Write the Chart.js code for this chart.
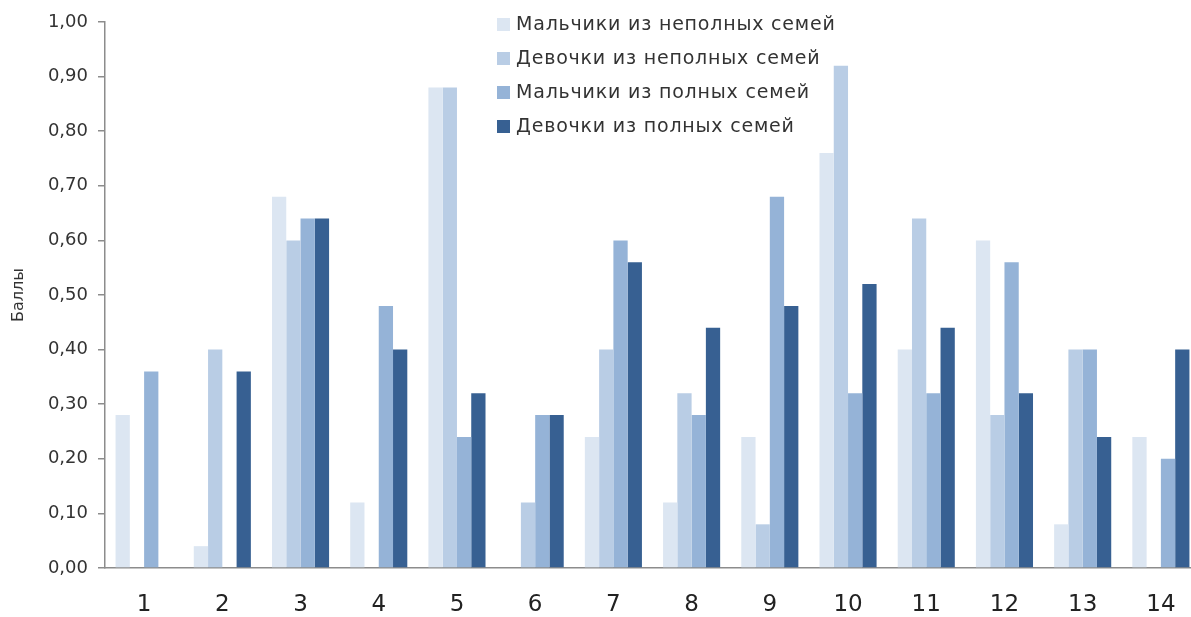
<!DOCTYPE html>
<html>
<head>
<meta charset="utf-8">
<script src="https://cdn.jsdelivr.net/npm/chart.js@4/dist/chart.umd.min.js"></script>
<style>
  html, body { margin: 0; padding: 0; background: #fff; overflow: hidden; }
  #wrap { width: 1191px; height: 617px; overflow: hidden; }
</style>
</head>
<body>
<div id="wrap"><canvas id="chart" width="1212" height="617"></canvas></div>
<script>
const categories = ['1', '2', '3', '4', '5', '6', '7', '8', '9', '10', '11', '12', '13', '14'];
const seriesNames = [
  'Мальчики из неполных семей',
  'Девочки из неполных семей',
  'Мальчики из полных семей',
  'Девочки из полных семей'
];
const boysIncomplete  = [0.28, 0.04, 0.68, 0.12, 0.88, 0.00, 0.24, 0.12, 0.24, 0.76, 0.40, 0.60, 0.08, 0.24];
const girlsIncomplete = [0.00, 0.40, 0.60, 0.00, 0.88, 0.12, 0.40, 0.32, 0.08, 0.92, 0.64, 0.28, 0.40, 0.00];
const boysComplete    = [0.36, 0.00, 0.64, 0.48, 0.24, 0.28, 0.60, 0.28, 0.68, 0.32, 0.32, 0.56, 0.40, 0.20];
const girlsComplete   = [0.00, 0.36, 0.64, 0.40, 0.32, 0.28, 0.56, 0.44, 0.48, 0.52, 0.44, 0.32, 0.24, 0.40];
const colors = ['#dce6f2', '#b9cde5', '#95b3d7', '#376092'];
const yTitle = 'Баллы';

const FONT = 'DejaVu Sans';
const allSeries = [boysIncomplete, girlsIncomplete, boysComplete, girlsComplete];

// legend drawn inside the plot area, one item per row
const insideLegend = {
  id: 'insideLegend',
  afterDraw(chart) {
    const ctx = chart.ctx;
    const x0 = chart.chartArea.left + 392;
    const y0 = chart.chartArea.top + 2;
    ctx.save();
    ctx.font = '19px "' + FONT + '"';
    ctx.letterSpacing = '0.8px';
    ctx.textBaseline = 'middle';
    ctx.textAlign = 'left';
    seriesNames.forEach((name, i) => {
      const cy = y0 + i * 34;
      ctx.fillStyle = colors[i];
      ctx.fillRect(x0, cy - 6, 13, 13);
      ctx.fillStyle = '#333';
      ctx.fillText(name, x0 + 19, cy + 1);
    });
    ctx.restore();
  }
};

new Chart(document.getElementById('chart'), {
  type: 'bar',
  data: {
    labels: categories,
    datasets: allSeries.map((vals, i) => ({
      label: seriesNames[i],
      data: vals,
      backgroundColor: colors[i],
      borderWidth: 0,
      barPercentage: 1.0,
      categoryPercentage: 0.73
    }))
  },
  options: {
    responsive: false,
    animation: false,
    layout: { padding: { top: 22, right: 12, left: 0, bottom: 0 } },
    plugins: {
      legend: { display: false },
      tooltip: { enabled: false }
    },
    scales: {
      x: {
        grid: { display: false, drawTicks: false },
        border: { display: true, color: '#8c8c8c', width: 1.5 },
        ticks: { color: '#222', font: { family: FONT, size: 23 }, padding: 23 },
        afterFit(scale) { scale.height = 49; }
      },
      y: {
        min: 0,
        max: 1,
        ticks: {
          stepSize: 0.1,
          color: '#333',
          padding: 10,
          font: { family: FONT, size: 18 },
          callback: v => v.toFixed(2).replace('.', ',')
        },
        grid: { drawOnChartArea: false, drawTicks: true, tickLength: 7, color: '#8c8c8c', lineWidth: 1.5 },
        border: { display: true, color: '#8c8c8c', width: 1.5 },
        title: {
          display: true,
          text: yTitle,
          color: '#333',
          font: { family: FONT, size: 16 },
          padding: { top: 9, bottom: 0 }
        },
        afterFit(scale) { scale.width = 105; }
      }
    }
  },
  plugins: [insideLegend]
});
</script>
</body>
</html>
